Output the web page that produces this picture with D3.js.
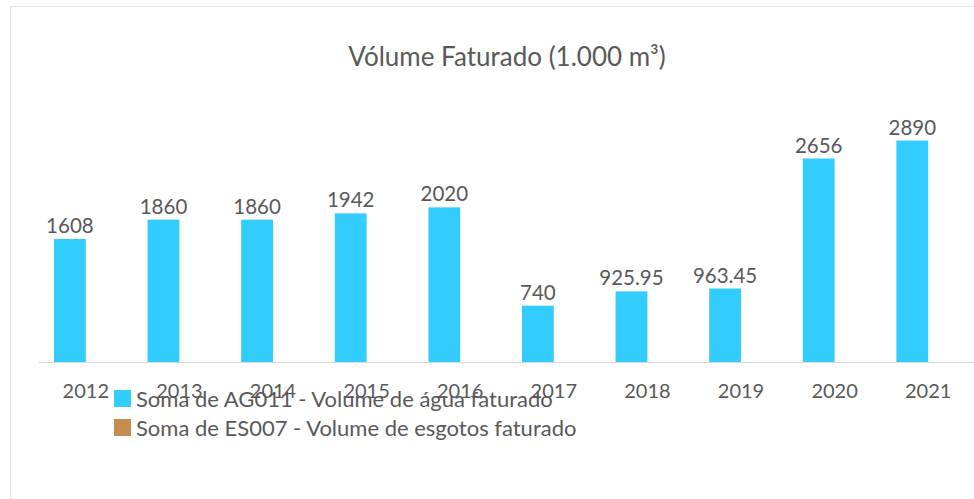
<!DOCTYPE html>
<html>
  <head>
    <meta charset="utf-8">
    <title>Vólume Faturado</title>
    <script type="text/javascript" src="https://cdn.jsdelivr.net/npm/d3@7"></script>
    <style type='text/css'>
      body { margin: 0; background: #fff; }
      svg { display: block; }
      text { font-family: Lato, "Open Sans", sans-serif; fill: #595959; }
      .axis path, .axis line { stroke: #d9d9d9; }
      .axis text { font-size: 20px; fill: #595959; }
    </style>
  </head>
  <body>
    <script type="text/javascript">
      var w = 974;
      var h = 499;

      // data
      var years = ['2012', '2013', '2014', '2015', '2016', '2017', '2018', '2019', '2020', '2021'];
      var seriesNames = ['Soma de AG011 - Volume de água faturado', 'Soma de ES007 - Volume de esgotos faturado'];
      var aguaFaturado = [1608, 1860, 1860, 1942, 2020, 740, 925.95, 963.45, 2656, 2890];
      var esgotosFaturado = [null, null, null, null, null, null, null, null, null, null];
      var seriesColors = ['#33ccff', '#c68b4f'];

      var svg = d3.select('body')
                  .append('svg')
                  .attr('width', w)
                  .attr('height', h);

      // chart border (left / top visible)
      svg.append('rect')
          .attr('x', 10.5)
          .attr('y', 6.5)
          .attr('width', 1000)
          .attr('height', 600)
          .attr('fill', 'none')
          .attr('stroke', '#e3e3e3');

      var xScale = d3.scaleBand()
                      .domain(years)
                      .range([39, 975])
                      .paddingInner(0.32)
                      .paddingOuter(0.16);

      var x1Scale = d3.scaleBand()
                      .domain(seriesNames)
                      .range([0, xScale.bandwidth()]);

      var yScale = d3.scaleLinear()
                      .domain([0, 3500])
                      .range([362.5, 93.7]);

      var rows = years.map(function(y, i) {
        return {year: y, values: [aguaFaturado[i], esgotosFaturado[i]]};
      });

      var groups = svg.selectAll('g.year')
                      .data(rows)
                      .enter()
                      .append('g')
                      .attr('class', 'year')
                      .attr('transform', function(d) {return 'translate(' + xScale(d.year) + ',0)';});

      var cells = groups.selectAll('g.cell')
                      .data(function(d) {
                        return d.values.map(function(v, k) {return {name: seriesNames[k], value: v, k: k};})
                                       .filter(function(c) {return c.value != null;});
                      })
                      .enter()
                      .append('g')
                      .attr('class', 'cell');

      cells.append('rect')
          .attr('x', function(d) {return x1Scale(d.name);})
          .attr('y', function(d) {return yScale(d.value);})
          .attr('width', x1Scale.bandwidth())
          .attr('height', function(d) {return yScale(0) - yScale(d.value);})
          .attr('fill', function(d) {return seriesColors[d.k];});

      cells.append('text')
          .attr('x', function(d) {return x1Scale(d.name) + x1Scale.bandwidth() / 2;})
          .attr('y', function(d) {return yScale(d.value) - 6;})
          .style('text-anchor', 'middle')
          .style('font-size', '20.5px')
          .text(function(d) {return d.value;});

      var xAxis = d3.axisBottom()
                    .scale(xScale)
                    .tickSize(0)
                    .tickPadding(21);

      svg.append('g')
          .attr('class', 'x axis')
          .attr('transform', 'translate(0,' + yScale(0) + ')')
          .call(xAxis)
          .select('.domain')
          .attr('d', 'M39,0H' + w);

      // title
      svg.append('text')
          .attr('x', 507)
          .attr('y', 66)
          .style('text-anchor', 'middle')
          .style('font-size', '26px')
          .text('Vólume Faturado (1.000 m³)');

      // legend
      var legend = svg.selectAll('g.legend')
                      .data(seriesNames)
                      .enter()
                      .append('g')
                      .attr('class', 'legend')
                      .attr('transform', function(d, i) {return 'translate(114,' + (390 + i * 29) + ')';});

      legend.append('rect')
          .attr('width', 17)
          .attr('height', 17)
          .attr('fill', function(d, i) {return seriesColors[i];});

      legend.append('text')
          .attr('x', 22)
          .attr('y', 17)
          .style('font-size', '22px')
          .text(function(d) {return d;});
    </script>
  </body>
</html>
